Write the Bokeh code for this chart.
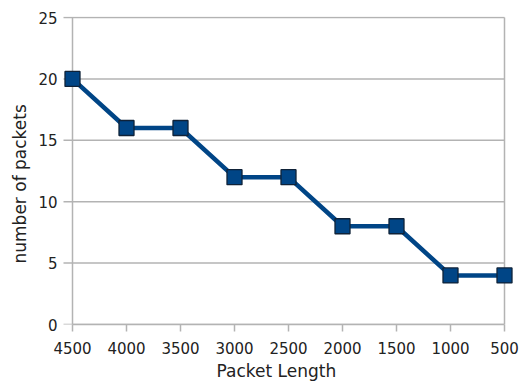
from bokeh.plotting import figure
from bokeh.models import Range1d, FixedTicker, ColumnDataSource, Title
from bokeh.embed import file_html
from bokeh.resources import INLINE

# Packet counts per packet length bucket
packet_length = [4500, 4000, 3500, 3000, 2500, 2000, 1500, 1000, 500]
num_packets = [20, 16, 16, 12, 12, 8, 8, 4, 4]
y_ticks = [0, 5, 10, 15, 20, 25]
x_title = "Packet Length"
y_title = "number of packets"

FONT = "DejaVu Sans"
GRID = "#b3b3b3"
BLUE = "#004586"
TEXT = "#222222"

W, H = 519, 387
# plot frame in pixels (a little wider than the data so edge markers are not cut)
F_LEFT, F_RIGHT, F_TOP, F_BOTTOM = 61, 515, 16, 324
DATA_LEFT_PX, DATA_RIGHT_PX = 72, 504
TICK_LEN = 9

x_hi, x_lo = max(packet_length), min(packet_length)
units_per_px = (x_hi - x_lo) / (DATA_RIGHT_PX - DATA_LEFT_PX)
x_start = x_hi + units_per_px * (DATA_LEFT_PX - F_LEFT)
x_end = x_lo - units_per_px * (F_RIGHT - DATA_RIGHT_PX)
y_top = y_ticks[-1] * (F_BOTTOM - F_TOP) / (F_BOTTOM - F_TOP - 1)

src = ColumnDataSource(dict(x=packet_length, y=num_packets))

p = figure(width=W, height=H, output_backend="svg", toolbar_location=None,
           x_range=Range1d(x_start, x_end), y_range=Range1d(0, y_top),
           min_border_left=F_LEFT, min_border_right=W - F_RIGHT,
           min_border_top=F_TOP, min_border_bottom=H - F_BOTTOM)

p.outline_line_color = None
p.grid.visible = False

# horizontal grid lines; they run a few pixels left of the axis to form its ticks
grid_x0 = x_hi + units_per_px * TICK_LEN
p.segment(x0=[grid_x0] * len(y_ticks), x1=[x_lo] * len(y_ticks),
          y0=y_ticks, y1=y_ticks, line_color=GRID, line_width=1.5)
# value axis line and right border
p.segment(x0=[x_hi, x_lo], x1=[x_hi, x_lo], y0=[0, 0], y1=[y_ticks[-1]] * 2,
          line_color=GRID, line_width=1.5)

p.line("x", "y", source=src, line_color=BLUE, line_width=4.5)
p.scatter("x", "y", source=src, marker="square", size=15,
          fill_color=BLUE, line_color="#0f2238", line_width=1.3)

p.xaxis.ticker = FixedTicker(ticks=packet_length)
p.yaxis.ticker = FixedTicker(ticks=y_ticks)
p.xaxis.bounds = (x_lo, x_hi)

for ax in (p.xaxis, p.yaxis):
    ax.axis_line_color = GRID
    ax.axis_line_width = 1.5
    ax.major_tick_line_color = GRID
    ax.major_tick_line_width = 1.5
    ax.major_tick_in = 0
    ax.minor_tick_line_color = None
    ax.major_label_text_font = FONT
    ax.major_label_text_font_size = "15px"
    ax.major_label_text_color = TEXT

# the value axis sits on the frame edge; its ticks come from the grid lines
p.yaxis.axis_line_color = None
p.yaxis.major_tick_out = 0
p.yaxis.major_tick_line_color = None
p.yaxis.major_label_standoff = 4
p.xaxis.major_tick_out = 7
p.xaxis.major_label_standoff = 10

p.add_layout(Title(text=x_title, align="left", offset=155, standoff=8,
                   vertical_align="top",
                   text_font=FONT, text_font_size="17px", text_color=TEXT,
                   text_font_style="normal"), "below")
p.add_layout(Title(text=y_title, align="left", offset=61, standoff=12,
                   vertical_align="bottom",
                   text_font=FONT, text_font_size="17px", text_color=TEXT,
                   text_font_style="normal"), "left")

open("out.html", "w").write(file_html(p, INLINE))
